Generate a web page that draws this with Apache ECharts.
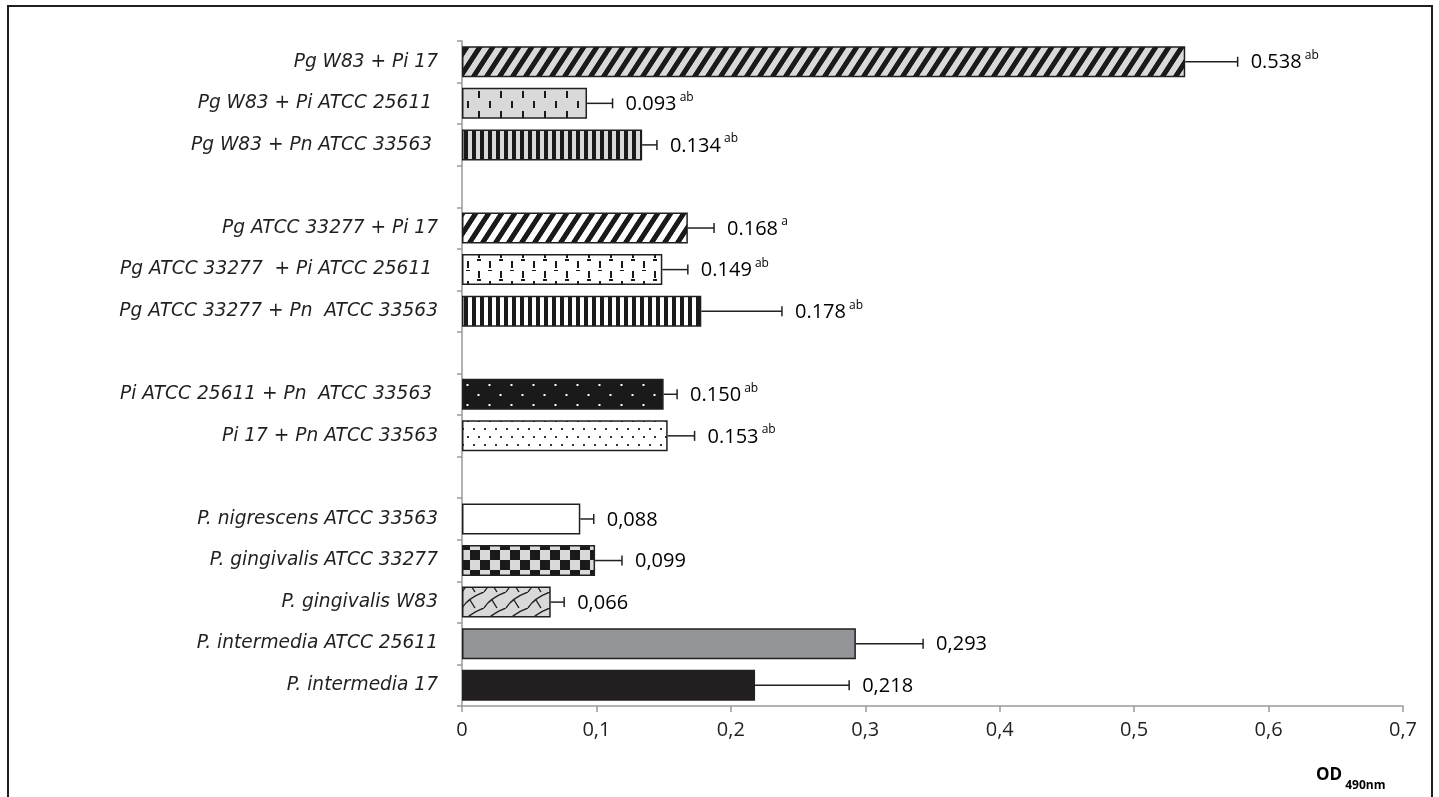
<!DOCTYPE html>
<html>
<head>
<meta charset="utf-8">
<script src="https://cdn.jsdelivr.net/npm/echarts@6/dist/echarts.min.js"></script>
<style>
html,body{margin:0;padding:0;background:#fff;}
#chart{width:1439px;height:797px;}
</style>
</head>
<body>
<div id="chart"></div>
<script>
// ---- data ----
const categories = [
  'Pg W83 + Pi 17', 'Pg W83 + Pi ATCC 25611 ', 'Pg W83 + Pn ATCC 33563 ', '',
  'Pg ATCC 33277 + Pi 17', 'Pg ATCC 33277  + Pi ATCC 25611 ', 'Pg ATCC 33277 + Pn  ATCC 33563', '',
  'Pi ATCC 25611 + Pn  ATCC 33563 ', 'Pi 17 + Pn ATCC 33563', '',
  'P. nigrescens ATCC 33563', 'P. gingivalis ATCC 33277', 'P. gingivalis W83',
  'P. intermedia ATCC 25611', 'P. intermedia 17'
];
const values = [0.538, 0.093, 0.134, null, 0.168, 0.149, 0.178, null, 0.150, 0.153, null, 0.088, 0.099, 0.066, 0.293, 0.218];
const errors = [0.039, 0.019, 0.011, null, 0.0195, 0.019, 0.060, null, 0.010, 0.020, null, 0.010, 0.020, 0.010, 0.050, 0.070];
const valueLabels = ['0.538', '0.093', '0.134', '', '0.168', '0.149', '0.178', '', '0.150', '0.153', '', '0,088', '0,099', '0,066', '0,293', '0,218'];
const superscripts = ['ab', 'ab', 'ab', '', 'a', 'ab', 'ab', '', 'ab', 'ab', '', '', '', '', '', ''];
const xTickLabels = ['0', '0,1', '0,2', '0,3', '0,4', '0,5', '0,6', '0,7'];

// ---- pattern styles ----
const LG = '#d9d9d9', BK = '#1a1a1a', WH = '#ffffff';
const FONT = 'Open Sans';
const CAT_FONT = 'DejaVu Sans';
function mk(w, h, draw) {
  const c = document.createElement('canvas');
  c.width = w; c.height = h;
  const ctx = c.getContext('2d');
  draw(ctx, w, h);
  return { image: c, repeat: 'repeat' };
}
function hex(c) { return [parseInt(c.slice(1, 3), 16), parseInt(c.slice(3, 5), 16), parseInt(c.slice(5, 7), 16)]; }
function diag(bg, fg) {
  return mk(13, 20, (ctx, w, h) => {
    const img = ctx.createImageData(w, h);
    const b = hex(bg), f = hex(fg);
    for (let y = 0; y < h; y++) for (let x = 0; x < w; x++) {
      let ph = ((x + y * w / h) % w) / w;
      let t;
      const edge = 0.07;
      const on = 0.46;
      if (ph < on - edge) t = 1;
      else if (ph < on) t = (on - ph) / edge;
      else if (ph > 1 - edge) t = (ph - (1 - edge)) / edge;
      else t = 0;
      const i = (y * w + x) * 4;
      for (let k = 0; k < 3; k++) img.data[i + k] = Math.round(f[k] * t + b[k] * (1 - t));
      img.data[i + 3] = 255;
    }
    ctx.putImageData(img, 0, 0);
  });
}
function vstripes(bg, fg) {
  return mk(8, 4, (ctx, w, h) => { ctx.fillStyle = bg; ctx.fillRect(0, 0, w, h); ctx.fillStyle = fg; ctx.fillRect(0, 0, 4, h); });
}
function dashes(bg) {
  return mk(22, 20, (ctx, w, h) => {
    ctx.fillStyle = bg; ctx.fillRect(0, 0, w, h);
    ctx.fillStyle = BK;
    ctx.fillRect(5, 1, 2, 7);
    ctx.fillRect(16, 11, 2, 7);
    if (bg === WH) {
      ctx.fillRect(4, 10, 4, 1); ctx.fillRect(15, 0, 4, 1);
      ctx.fillRect(15, 20 - 1, 4, 1);
    }
  });
}
function dots(bg, fg, w, h) {
  return mk(w, h, (ctx) => {
    ctx.fillStyle = bg; ctx.fillRect(0, 0, w, h);
    ctx.fillStyle = fg;
    ctx.fillRect(w / 4 - 1, h / 4 - 1, 2, 2);
    ctx.fillRect(3 * w / 4 - 1, 3 * h / 4 - 1, 2, 2);
  });
}
function dotsDense(bg, fg) {
  return mk(22, 16, (ctx) => {
    ctx.fillStyle = bg; ctx.fillRect(0, 0, 22, 16);
    ctx.fillStyle = fg;
    [[5, 4], [16, 4], [0, 12], [11, 12]].forEach(p => ctx.fillRect(p[0], p[1], 2, 2));
  });
}
function checker() {
  return mk(20, 20, (ctx) => {
    ctx.fillStyle = LG; ctx.fillRect(0, 0, 20, 20);
    ctx.fillStyle = BK; ctx.fillRect(0, 0, 10, 10); ctx.fillRect(10, 10, 10, 10);
  });
}
function scales() {
  return mk(22, 16, (ctx) => {
    ctx.fillStyle = LG; ctx.fillRect(0, 0, 22, 16);
    ctx.strokeStyle = '#222'; ctx.lineWidth = 1.4;
    ctx.beginPath();
    ctx.moveTo(0, 16); ctx.quadraticCurveTo(6, 6, 22, 0);
    ctx.moveTo(22, 16); ctx.quadraticCurveTo(28, 6, 44, 0);
    ctx.moveTo(-22, 16); ctx.quadraticCurveTo(-16, 6, 0, 0);
    ctx.moveTo(8, 8); ctx.lineTo(13, 16);
    ctx.moveTo(8, -8); ctx.lineTo(13, 0);
    ctx.stroke();
  });
}
const fills = [
  diag(LG, BK), dashes(LG), vstripes(LG, BK), null,
  diag(WH, BK), dashes(WH), vstripes(WH, BK), null,
  dots(BK, WH, 22, 20), dotsDense(WH, '#333'), null,
  WH, checker(), scales(), '#939598', '#231f20'
];

const barData = values.map((v, i) => v == null ? '-' : {
  value: v,
  itemStyle: { color: fills[i], borderColor: '#231f20', borderWidth: 1.5 }
});
const errData = values.map((v, i) => v == null ? ['-', i, '-'] : [v, i, errors[i]]);

const chart = echarts.init(document.getElementById('chart'));
chart.setOption({
  animation: false,
  backgroundColor: '#fff',
  grid: { left: 462, right: 36, top: 41, bottom: 91, containLabel: false },
  xAxis: {
    type: 'value', min: 0, max: 0.7, interval: 0.1,
    axisLine: { show: true, lineStyle: { color: '#9a9a9a', width: 1.5 } },
    axisTick: { show: true, length: 6, lineStyle: { color: '#9a9a9a', width: 1.5 } },
    splitLine: { show: false },
    axisLabel: {
      margin: 14, fontFamily: FONT, fontSize: 20, color: '#231f20',
      formatter: (v) => xTickLabels[Math.round(v * 10)]
    }
  },
  yAxis: {
    type: 'category', data: categories, inverse: true,
    axisLine: { show: true, lineStyle: { color: '#9a9a9a', width: 1.5 } },
    axisTick: { show: true, length: 5, lineStyle: { color: '#9a9a9a', width: 1.5 } },
    axisLabel: { margin: 24, fontFamily: CAT_FONT, fontStyle: 'italic', fontSize: 18.6, color: '#231f20' }
  },
  series: [
    {
      type: 'bar', data: barData, barWidth: 31
    },
    {
      type: 'custom',
      data: errData,
      encode: { x: 0, y: 1 },
      z: 5,
      renderItem: function (params, api) {
        const v = api.value(0);
        if (isNaN(v)) return null;
        const i = api.value(1);
        const e = api.value(2);
        const p0 = api.coord([v, i]);
        const p1 = api.coord([v + e, i]);
        const sup = superscripts[i];
        const txt = '{v|' + valueLabels[i] + '}' + (sup ? '{s| ' + sup + '}' : '');
        return {
          type: 'group',
          children: [
            { type: 'line', shape: { x1: p0[0], y1: p0[1], x2: p1[0], y2: p1[1] }, style: { stroke: '#231f20', lineWidth: 1.5 } },
            { type: 'line', shape: { x1: p1[0], y1: p1[1] - 5, x2: p1[0], y2: p1[1] + 5 }, style: { stroke: '#231f20', lineWidth: 1.5 } },
            {
              type: 'text', x: p1[0] + 13, y: p1[1] + 1,
              style: {
                text: txt, verticalAlign: 'middle', align: 'left',
                rich: {
                  v: { fontFamily: FONT, fontSize: 20, color: '#231f20', lineHeight: 26 },
                  s: { fontFamily: FONT, fontSize: 12, color: '#231f20', verticalAlign: 'top', lineHeight: 16 }
                }
              }
            }
          ]
        };
      }
    }
  ],
  graphic: [
    { type: 'rect', shape: { x: 8, y: 6, width: 1424, height: 820 }, style: { fill: 'none', stroke: '#231f20', lineWidth: 2 }, silent: true },
    {
      type: 'text', left: 1316, top: 767,
      style: {
        text: '{a|OD}{b| 490nm}',
        rich: {
          a: { fontFamily: FONT, fontWeight: 'bold', fontSize: 17, color: '#231f20', lineHeight: 22 },
          b: { fontFamily: FONT, fontWeight: 'bold', fontSize: 12, color: '#231f20', verticalAlign: 'bottom', lineHeight: 16, padding: [0, 0, -5, 0] }
        }
      }
    }
  ]
});
</script>
</body>
</html>
